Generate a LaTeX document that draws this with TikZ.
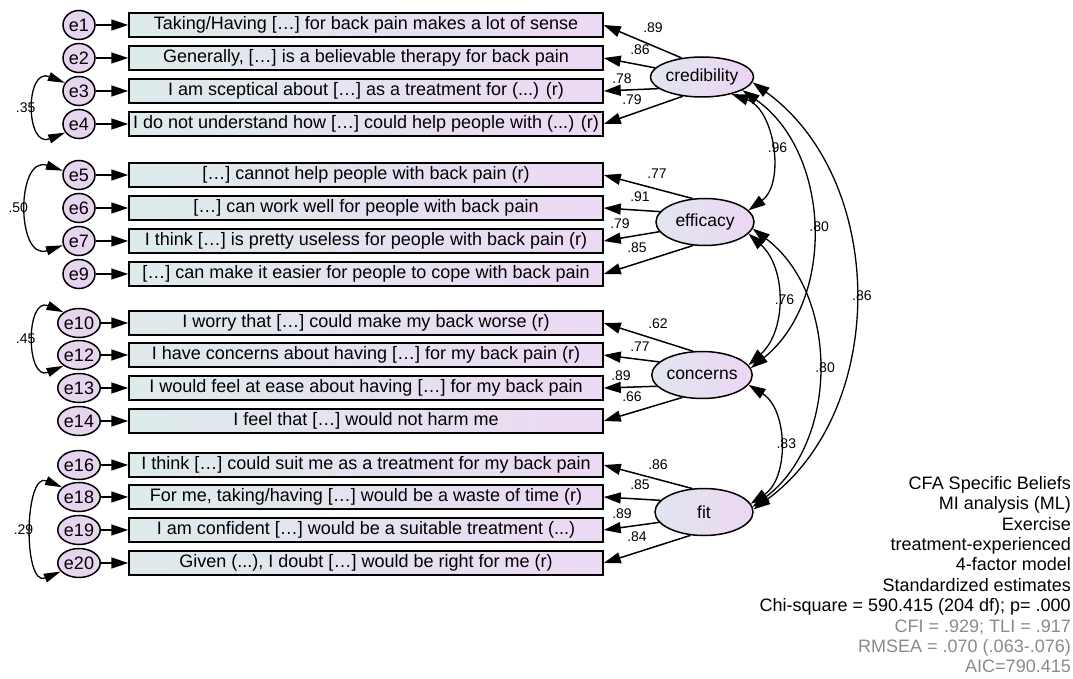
\documentclass[tikz,border=0pt]{standalone}
\usepackage{fontspec}
\setmainfont{Liberation Sans}
\usepackage{xcolor}
\usepackage{tikz}
\usetikzlibrary{shapes.geometric, arrows.meta, positioning, calc}

\definecolor{boxleft}{HTML}{DDEBEB}
\definecolor{boxright}{HTML}{ECD9F3}
\definecolor{latleft}{HTML}{E1E6EF}
\definecolor{latright}{HTML}{ECD6F3}
\definecolor{errfill}{HTML}{E7D5EF}
\definecolor{fitgray}{HTML}{8A8A8A}

\tikzset{
    item/.style={draw, line width=1.5pt, minimum width=474pt, minimum height=24pt, inner sep=0pt,
        left color=boxleft, right color=boxright, font=\fontsize{18}{20}\selectfont},
    err/.style={draw, ellipse, line width=1.5pt, minimum width=32pt, minimum height=29pt, inner sep=0pt,
        fill=errfill, font=\fontsize{18}{20}\selectfont},
    latent/.style={draw, ellipse, line width=1.5pt, minimum width=98pt, minimum height=47pt, inner sep=0pt,
        left color=latleft, right color=latright, font=\fontsize{17.5}{20}\selectfont},
    load/.style={->, line width=1.5pt},
    cov/.style={<->, line width=1.3pt},
    est/.style={inner sep=0pt, font=\fontsize{14}{16}\selectfont}
}

\begin{document}
\begin{tikzpicture}[x=1pt, y=-1pt, >={Triangle[length=17pt, width=11pt]}]
    \useasboundingbox (0,0) rectangle (1073,679);

    % items and their error terms
    \foreach \n/\e/\y/\txt in {
        1/e1/25/{Taking/Having […] for back pain makes a lot of sense},
        2/e2/58/{Generally, […] is a believable therapy for back pain},
        3/e3/91/{I am sceptical about […] as a treatment for (...) (r)},
        4/e4/124/{I do not understand how […] could help people with (...) (r)},
        5/e5/175/{[…] cannot help people with back pain (r)},
        6/e6/208/{[…] can work well for people with back pain},
        7/e7/241/{I think […] is pretty useless for people with back pain (r)},
        8/e9/274/{[…] can make it easier for people to cope with back pain},
        9/e10/323/{I worry that […] could make my back worse (r)},
        10/e12/355/{I have concerns about having […] for my back pain (r)},
        11/e13/388/{I would feel at ease about having […] for my back pain},
        12/e14/421/{I feel that […] would not harm me},
        13/e16/465/{I think […] could suit me as a treatment for my back pain},
        14/e18/497/{For me, taking/having […] would be a waste of time (r)},
        15/e19/530/{I am confident […] would be a suitable treatment (...)},
        16/e20/563/{Given (...), I doubt […] would be right for me (r)}}{
        \node[item] (i\n) at (366,\y) {\txt};
        \node[err] (\e) at (79,\y) {\e};
        \draw[load] (\e) -- (i\n);
    }

    % factors
    \node[latent, minimum height=40pt] (cred) at (702,77) {credibility};
    \node[latent] (eff) at (705,222) {efficacy};
    \node[latent] (conc) at (702,375) {concerns};
    \node[latent] (fit) at (704,512) {fit};

    % loadings
    \foreach \f/\i/\a/\lx/\ly/\v in {
        cred/1/137/653/28/.89, cred/2/169/640/50/.86, cred/3/195/622/79/.78, cred/4/225/632/100/.79,
        eff/5/118/657/174/.77, eff/6/167/640/197/.91, eff/7/192/620/224/.79, eff/8/243/637/248/.85,
        conc/9/111/658/324/.62, conc/10/163/640/347/.77, conc/11/194/621/376/.89, conc/12/229/632/397/.66,
        fit/13/117/658/465/.86, fit/14/165/640/485/.85, fit/15/193/622/514/.89, fit/16/240/637/537/.84}{
        \draw[load] (\f.\a) -- (i\i.east);
        \node[est] (l\i) at (\lx,\ly) {\v};
    }

    % factor covariances
    \draw[cov] (cred.-30) to[bend left=62] node[est, anchor=west, xshift=-3pt] (c1) {.96} (eff.15);
    \draw[cov] (cred.-18) to[bend left=53] node[est, anchor=west, xshift=-3pt] (c2) {.80} (conc.8);
    \draw[cov] (cred.-6) to[bend left=54] node[est, anchor=west, xshift=-3pt] (c3) {.86} (fit.3);
    \draw[cov] (eff.-15) to[bend left=48] node[est, anchor=west, xshift=-3pt] (c4) {.76} (conc.12);
    \draw[cov] (eff.-8) to[bend left=53] node[est, anchor=west, xshift=-3pt] (c5) {.80} (fit.6);
    \draw[cov] (conc.-12) to[bend left=57] node[est, anchor=west, xshift=-3pt] (c6) {.83} (fit.10);

    % error covariances
    \draw[cov, >={Triangle[length=17pt, width=9pt]}] (e3.150) .. controls +(-40,-16) and +(-40,16) .. node[est, anchor=east, xshift=1pt] (r1) {.35} (e4.212);
    \draw[cov, >={Triangle[length=17pt, width=9pt]}] (e5.165) .. controls +(-47,-16) and +(-47,16) .. node[est, anchor=east, xshift=1pt] (r2) {.50} (e7.195);
    \draw[cov, >={Triangle[length=17pt, width=9pt]}] (e10.145) .. controls +(-38,-16) and +(-38,16) .. node[est, anchor=east, xshift=1pt] (r3) {.45} (e12.215);
    \draw[cov, >={Triangle[length=17pt, width=9pt]}] (e18.150) .. controls +(-38,-16) and +(-38,16) .. node[est, anchor=east, xshift=1pt] (r4) {.29} (e20.205);

    \node[anchor=north east, align=right, inner sep=0pt, font=\fontsize{18}{20.4}\selectfont] (info) at (1071,476)
        {CFA Specific Beliefs\\ MI analysis (ML)\\ Exercise\\ treatment-experienced\\ 4-factor model\\
         Standardized estimates\\ Chi-square = 590.415 (204 df); p= .000\\
         \textcolor{fitgray}{CFI = .929; TLI = .917}\\ \textcolor{fitgray}{RMSEA = .070 (.063-.076)}\\
         \textcolor{fitgray}{AIC=790.415}};
\end{tikzpicture}
\end{document}
